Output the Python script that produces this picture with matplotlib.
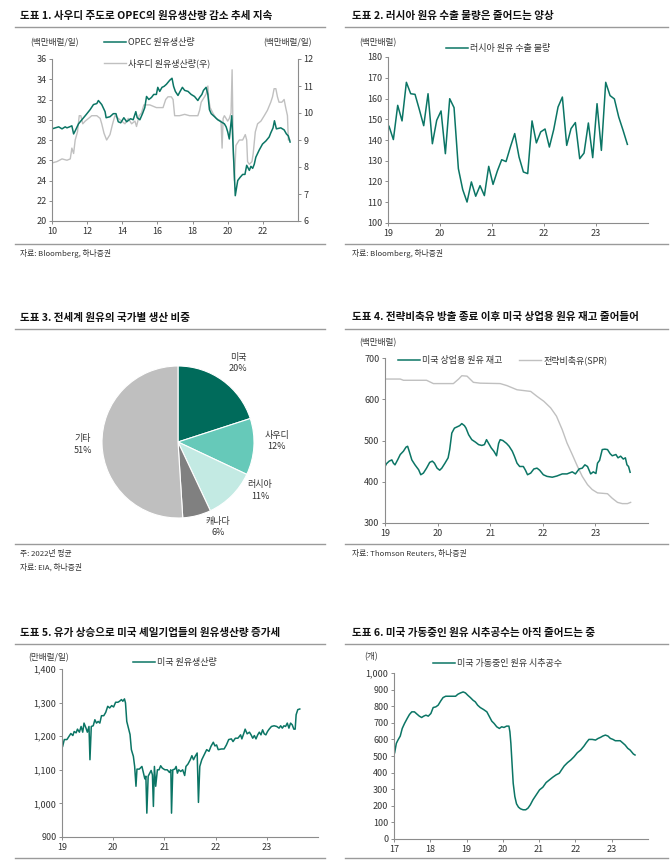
import matplotlib
matplotlib.use("Agg")
import matplotlib.pyplot as plt
from matplotlib.lines import Line2D
from matplotlib.ticker import FuncFormatter
import numpy as np

plt.rcParams['font.family'] = ['Noto Sans CJK KR', 'DejaVu Sans']

# ---- 도표 1: OPEC / 사우디 원유생산량 (year, 백만배럴/일)
opec_year = [2010.00, 2010.19, 2010.38, 2010.57, 2010.75, 2010.85, 2011.00, 2011.13, 2011.23, 2011.32,
             2011.51, 2011.70, 2011.94, 2012.17, 2012.36, 2012.55, 2012.64, 2012.83, 2013.02, 2013.08,
             2013.30, 2013.49, 2013.64, 2013.77, 2013.91, 2014.09, 2014.25, 2014.47, 2014.62, 2014.77,
             2014.85, 2015.00, 2015.15, 2015.28, 2015.38, 2015.51, 2015.66, 2015.79, 2015.94, 2016.02,
             2016.13, 2016.26, 2016.38, 2016.51, 2016.70, 2016.83, 2016.92, 2017.02, 2017.17, 2017.26,
             2017.42, 2017.55, 2017.74, 2017.92, 2018.11, 2018.30, 2018.40, 2018.53, 2018.62, 2018.77,
             2018.87, 2018.96, 2019.06, 2019.25, 2019.43, 2019.62, 2019.81, 2019.91, 2020.00, 2020.09,
             2020.23, 2020.43, 2020.57, 2020.70, 2020.85, 2020.98, 2021.08, 2021.23, 2021.32, 2021.42,
             2021.51, 2021.60, 2021.79, 2021.98, 2022.17, 2022.36, 2022.45, 2022.58, 2022.66, 2022.77,
             2023.02, 2023.21, 2023.34, 2023.45, 2023.55]
opec_prod = [29.1, 29.2, 29.3, 29.1, 29.3, 29.2, 29.3, 29.4, 28.6, 28.9,
             29.6, 30.0, 30.5, 31.0, 31.5, 31.6, 31.9, 31.5, 30.8, 30.2,
             30.3, 30.6, 30.6, 29.8, 29.7, 30.2, 29.8, 30.1, 30.0, 30.8,
             30.2, 30.0, 30.6, 31.2, 32.3, 32.0, 32.2, 32.5, 32.5, 33.2,
             32.8, 33.2, 33.3, 33.5, 33.9, 34.1, 33.3, 32.8, 32.4, 32.7,
             33.2, 32.9, 32.8, 32.5, 32.3, 31.9, 32.2, 32.5, 32.9, 33.2,
             32.5, 31.0, 30.6, 30.3, 30.0, 29.8, 29.6, 29.3, 28.8, 28.1,
             30.4, 22.5, 24.0, 24.3, 24.6, 24.6, 25.5, 25.0, 25.4, 25.2,
             25.6, 26.3, 27.0, 27.6, 27.9, 28.3, 28.7, 29.2, 29.9, 29.1,
             29.2, 29.0, 28.6, 28.4, 27.8]

saudi_year = [2010.00, 2010.28, 2010.57, 2010.85, 2011.04, 2011.13, 2011.23, 2011.32, 2011.45, 2011.55,
              2011.64, 2011.75, 2011.89, 2012.08, 2012.26, 2012.55, 2012.74, 2012.83, 2012.96, 2013.11,
              2013.30, 2013.45, 2013.58, 2013.77, 2013.96, 2014.15, 2014.34, 2014.53, 2014.72, 2014.81,
              2014.96, 2015.09, 2015.23, 2015.57, 2015.94, 2016.32, 2016.47, 2016.60, 2016.79, 2016.89,
              2016.98, 2017.26, 2017.55, 2017.83, 2018.11, 2018.30, 2018.40, 2018.49, 2018.68, 2018.77,
              2018.87, 2018.92, 2019.00, 2019.15, 2019.34, 2019.62, 2019.68, 2019.74, 2019.81, 2020.00,
              2020.09, 2020.19, 2020.25, 2020.32, 2020.38, 2020.47, 2020.66, 2020.85, 2021.00, 2021.08,
              2021.13, 2021.23, 2021.38, 2021.45, 2021.57, 2021.70, 2021.89, 2022.08, 2022.26, 2022.45,
              2022.55, 2022.64, 2022.74, 2022.83, 2022.92, 2023.08, 2023.21, 2023.30, 2023.40, 2023.45,
              2023.53]
saudi_prod = [8.15, 8.2, 8.3, 8.25, 8.3, 8.7, 8.5, 9.0, 9.3, 9.9,
              9.9, 9.6, 9.7, 9.8, 9.9, 9.9, 9.8, 9.6, 9.25, 9.0,
              9.2, 9.6, 9.9, 9.8, 9.7, 9.6, 9.8, 9.6, 9.7, 9.5,
              9.9, 10.0, 10.3, 10.3, 10.2, 10.2, 10.5, 10.6, 10.6, 10.5,
              9.9, 9.9, 9.95, 9.9, 9.9, 9.9, 10.1, 10.4, 10.6, 10.7,
              11.0, 10.5, 10.2, 10.0, 9.8, 9.7, 8.7, 9.8, 9.9, 9.7,
              9.8, 10.0, 11.6, 8.5, 7.5, 8.8, 9.0, 9.0, 9.2, 9.0,
              8.2, 8.1, 8.2, 8.5, 9.3, 9.6, 9.7, 9.9, 10.1, 10.4,
              10.6, 10.9, 10.9, 10.6, 10.4, 10.4, 10.5, 10.2, 9.9, 9.0,
              9.0]

# ---- 도표 2: 러시아 원유 수출 물량 (monthly from Jan 2019, 백만배럴)
russia_exports = [146.6, 140.2, 156.7, 149.2, 167.8, 162.3, 162.0, 154.6, 146.9, 162.3, 138.2, 149.5,
                  154.0, 133.4, 159.9, 155.6, 126.2, 116.1, 110.1, 119.8, 112.9, 118.0, 113.2, 127.3,
                  118.6, 125.1, 130.5, 129.6, 136.6, 143.1, 131.8, 124.6, 123.8, 149.2, 138.6, 143.9,
                  145.3, 136.6, 145.0, 155.9, 160.7, 137.4, 145.5, 148.4, 131.0, 133.7, 148.2, 131.5,
                  157.5, 135.0, 167.8, 161.4, 159.8, 151.1, 144.7, 137.9]

# ---- 도표 3: 국가별 생산 비중 (2022년 평균, %)
pie_names = ['미국', '사우디', '러시아', '캐나다', '기타']
pie_shares = [20, 12, 11, 6, 51]
pie_colors = ['#006B5B', '#66C9B9', '#C3EAE3', '#808080', '#BFBFBF']

# ---- 도표 4: 미국 상업용 원유 재고 / 전략비축유 (백만배럴)
comm_year = [2019.00, 2019.03, 2019.08, 2019.13, 2019.16, 2019.19, 2019.24, 2019.29, 2019.35, 2019.40,
             2019.43, 2019.46, 2019.51, 2019.57, 2019.64, 2019.68, 2019.73, 2019.79, 2019.85, 2019.90,
             2019.94, 2019.99, 2020.04, 2020.08, 2020.14, 2020.20, 2020.23, 2020.27, 2020.32, 2020.37,
             2020.42, 2020.46, 2020.51, 2020.54, 2020.59, 2020.65, 2020.72, 2020.78, 2020.84, 2020.89,
             2020.93, 2020.97, 2021.02, 2021.07, 2021.12, 2021.16, 2021.19, 2021.24, 2021.31, 2021.36,
             2021.42, 2021.46, 2021.51, 2021.56, 2021.63, 2021.67, 2021.71, 2021.77, 2021.83, 2021.89,
             2021.94, 2022.01, 2022.08, 2022.18, 2022.27, 2022.37, 2022.46, 2022.56, 2022.62, 2022.69,
             2022.75, 2022.80, 2022.85, 2022.91, 2022.96, 2023.01, 2023.04, 2023.08, 2023.13, 2023.18,
             2023.23, 2023.28, 2023.32, 2023.39, 2023.43, 2023.48, 2023.53, 2023.57, 2023.60, 2023.63,
             2023.66]
comm_stock = [437, 444, 450, 453, 445, 441, 453, 466, 474, 484,
              486, 474, 453, 441, 429, 417, 421, 433, 447, 450,
              445, 433, 428, 433, 445, 458, 478, 518, 530, 533,
              536, 541, 536, 530, 514, 502, 496, 490, 488, 490,
              502, 493, 482, 474, 463, 493, 502, 500, 493, 486,
              474, 462, 445, 437, 437, 428, 417, 421, 431, 433,
              428, 417, 413, 411, 414, 419, 419, 424, 419, 431,
              433, 441, 437, 419, 424, 420, 445, 452, 478, 479,
              478, 468, 463, 466, 458, 462, 455, 458, 441, 437,
              423]

spr_year = [2019.00, 2019.29, 2019.35, 2019.79, 2019.92, 2020.30, 2020.40, 2020.46, 2020.56, 2020.68,
            2020.81, 2021.19, 2021.32, 2021.51, 2021.77, 2021.89, 2022.02, 2022.15, 2022.26, 2022.37,
            2022.46, 2022.56, 2022.66, 2022.75, 2022.85, 2022.94, 2023.04, 2023.23, 2023.32, 2023.42,
            2023.51, 2023.61, 2023.67]
spr_stock = [649, 649, 646, 646, 638, 638, 649, 657, 656, 641,
             639, 638, 633, 623, 619, 607, 595, 579, 559, 526,
             494, 466, 437, 413, 393, 381, 373, 371, 360, 350,
             347, 347, 350]

# ---- 도표 5: 미국 원유생산량 (만배럴/일)
us_prod_year = [2019.013, 2019.045, 2019.096, 2019.148, 2019.173, 2019.212, 2019.238, 2019.276, 2019.302, 2019.340,
                2019.373, 2019.405, 2019.430, 2019.469, 2019.495, 2019.527, 2019.546, 2019.572, 2019.610, 2019.642,
                2019.674, 2019.706, 2019.739, 2019.771, 2019.816, 2019.854, 2019.893, 2019.931, 2019.970, 2020.008,
                2020.047, 2020.092, 2020.124, 2020.162, 2020.188, 2020.220, 2020.240, 2020.265, 2020.297, 2020.329,
                2020.355, 2020.394, 2020.419, 2020.445, 2020.464, 2020.509, 2020.561, 2020.593, 2020.618, 2020.638,
                2020.657, 2020.683, 2020.715, 2020.741, 2020.766, 2020.785, 2020.805, 2020.830, 2020.863, 2020.895,
                2020.927, 2020.959, 2021.010, 2021.055, 2021.100, 2021.126, 2021.139, 2021.164, 2021.203, 2021.229,
                2021.254, 2021.280, 2021.319, 2021.357, 2021.396, 2021.421, 2021.460, 2021.505, 2021.537, 2021.569,
                2021.601, 2021.640, 2021.665, 2021.691, 2021.730, 2021.762, 2021.794, 2021.826, 2021.871, 2021.910,
                2021.955, 2021.987, 2022.019, 2022.051, 2022.115, 2022.166, 2022.211, 2022.256, 2022.308, 2022.340,
                2022.385, 2022.436, 2022.488, 2022.513, 2022.552, 2022.577, 2022.616, 2022.661, 2022.693, 2022.725,
                2022.757, 2022.789, 2022.822, 2022.854, 2022.886, 2022.918, 2022.950, 2022.982, 2023.014, 2023.046,
                2023.091, 2023.143, 2023.194, 2023.239, 2023.271, 2023.303, 2023.335, 2023.367, 2023.400, 2023.432,
                2023.464, 2023.496, 2023.528, 2023.554, 2023.573, 2023.605, 2023.644]
us_prod = [1170, 1190, 1190, 1202, 1208, 1202, 1214, 1210, 1221, 1212,
           1229, 1212, 1239, 1224, 1212, 1229, 1130, 1229, 1231, 1249,
           1239, 1244, 1239, 1261, 1261, 1271, 1289, 1284, 1291, 1287,
           1301, 1301, 1304, 1309, 1304, 1311, 1299, 1244, 1224, 1205,
           1160, 1140, 1110, 1051, 1102, 1102, 1110, 1090, 1073, 1081,
           971, 1081, 1090, 1098, 1085, 991, 1110, 1051, 1100, 1100,
           1112, 1105, 1100, 1100, 1092, 1100, 971, 1100, 1102, 1110,
           1090, 1100, 1095, 1100, 1083, 1110, 1117, 1130, 1142, 1130,
           1140, 1150, 1003, 1110, 1130, 1140, 1150, 1160, 1155, 1170,
           1182, 1171, 1174, 1160, 1162, 1162, 1174, 1190, 1192, 1184,
           1194, 1194, 1204, 1192, 1209, 1221, 1207, 1212, 1204, 1194,
           1202, 1192, 1204, 1212, 1204, 1219, 1207, 1204, 1214, 1221,
           1229, 1231, 1229, 1224, 1231, 1224, 1231, 1229, 1239, 1224,
           1239, 1234, 1221, 1221, 1264, 1279, 1281]

# ---- 도표 6: 미국 가동중인 원유 시추공수 (개)
rig_year = [2017.018, 2017.064, 2017.109, 2017.172, 2017.227, 2017.290, 2017.363, 2017.426, 2017.490, 2017.563,
            2017.635, 2017.699, 2017.762, 2017.817, 2017.880, 2017.944, 2018.016, 2018.080, 2018.152, 2018.216,
            2018.289, 2018.352, 2018.425, 2018.515, 2018.606, 2018.697, 2018.760, 2018.833, 2018.906, 2018.969,
            2019.033, 2019.105, 2019.178, 2019.241, 2019.305, 2019.377, 2019.468, 2019.559, 2019.632, 2019.695,
            2019.759, 2019.831, 2019.904, 2019.967, 2020.031, 2020.103, 2020.167, 2020.194, 2020.221, 2020.258,
            2020.285, 2020.330, 2020.376, 2020.430, 2020.485, 2020.557, 2020.630, 2020.693, 2020.757, 2020.829,
            2020.920, 2021.011, 2021.102, 2021.192, 2021.283, 2021.374, 2021.465, 2021.555, 2021.628, 2021.691,
            2021.782, 2021.873, 2021.964, 2022.054, 2022.145, 2022.236, 2022.299, 2022.372, 2022.463, 2022.554,
            2022.626, 2022.690, 2022.753, 2022.826, 2022.898, 2022.962, 2023.034, 2023.098, 2023.171, 2023.234,
            2023.298, 2023.370, 2023.443, 2023.506, 2023.597, 2023.642]
rig_count = [520, 576, 596, 620, 666, 696, 726, 750, 766, 766,
             752, 740, 732, 740, 746, 740, 756, 792, 796, 806,
             832, 852, 860, 860, 860, 860, 872, 880, 886, 880,
             866, 852, 836, 826, 806, 792, 780, 766, 736, 710,
             696, 676, 666, 676, 672, 680, 680, 646, 576, 436,
             336, 256, 212, 192, 182, 176, 176, 186, 206, 236,
             266, 296, 312, 340, 356, 372, 386, 396, 420, 440,
             460, 476, 496, 520, 536, 560, 580, 600, 600, 596,
             606, 612, 620, 626, 620, 606, 600, 592, 592, 592,
             580, 566, 546, 536, 512, 506]

TEAL = '#0B7565'
GRAY = '#C0C0C0'
SPINE = '#8C8C8C'
TXT = '#333333'

W, H = 671, 861
fig = plt.figure(figsize=(W / 100, H / 100), dpi=100)


def add_ax(l, t, r, b):
    return fig.add_axes([l / W, 1 - b / H, (r - l) / W, (b - t) / H])


def ftext(x, y, s, **kw):
    kw.setdefault('fontsize', 6.2)
    kw.setdefault('color', TXT)
    kw.setdefault('va', 'center')
    fig.text(x / W, 1 - y / H, s, **kw)


def hline(y, x0, x1, lw=1.0, color='#9A9A9A'):
    fig.add_artist(Line2D([x0 / W, x1 / W], [1 - y / H, 1 - y / H],
                          transform=fig.transFigure, color=color, lw=lw))


def style(ax):
    for s in ['top', 'right']:
        ax.spines[s].set_visible(False)
    for s in ['left', 'bottom']:
        ax.spines[s].set_color(SPINE)
        ax.spines[s].set_linewidth(0.8)
    ax.tick_params(axis='both', direction='out', length=2, width=0.7, color=SPINE,
                   labelsize=6.5, labelcolor=TXT, pad=2)
    ax.patch.set_alpha(0)


def add_legend(ax, handles, labels, x, y, **kw):
    ax.legend(handles, labels, loc='upper left', bbox_to_anchor=(x / W, 1 - y / H),
              bbox_transform=fig.transFigure, frameon=False, fontsize=6.5,
              handlelength=2.4, handletextpad=0.3, borderpad=0, borderaxespad=0,
              labelcolor=TXT, **kw)


comma = FuncFormatter(lambda v, p: f'{int(v):,}')

# titles and frame lines
left_x, right_x = 20, 352
panels = [
    ('도표 1. 사우디 주도로 OPEC의 원유생산량 감소 추세 지속', left_x, 16, 27, 15, 325),
    ('도표 2. 러시아 원유 수출 물량은 줄어드는 양상', right_x, 16, 27, 345, 668),
    ('도표 3. 전세계 원유의 국가별 생산 비중', left_x, 318, 329, 15, 325),
    ('도표 4. 전략비축유 방출 종료 이후 미국 상업용 원유 재고 줄어들어', right_x, 317, 329, 345, 668),
    ('도표 5. 유가 상승으로 미국 셰일기업들의 원유생산량 증가세', left_x, 633, 644, 15, 325),
    ('도표 6. 미국 가동중인 원유 시추공수는 아직 줄어드는 중', right_x, 633, 644, 345, 668),
]
for title, tx, ty, ly, x0, x1 in panels:
    ftext(tx, ty, title, fontsize=7.6, fontweight='bold', color='#111111')
    hline(ly, x0, x1)
for y in [244, 544, 858]:
    hline(y, 15, 325)
    hline(y, 345, 668)

ftext(20, 253, '자료: Bloomberg, 하나증권', fontsize=5.6)
ftext(352, 253, '자료: Bloomberg, 하나증권', fontsize=5.6)
ftext(20, 554, '주: 2022년 평균', fontsize=5.6)
ftext(20, 567, '자료: EIA, 하나증권', fontsize=5.6)
ftext(352, 553, '자료: Thomson Reuters, 하나증권', fontsize=5.6)

# ---- panel 1
ax1 = add_ax(52, 59, 298, 221)
style(ax1)
ax1r = ax1.twinx()
style(ax1r)
ax1r.spines['left'].set_visible(False)
ax1r.spines['bottom'].set_visible(False)
ax1r.spines['right'].set_visible(True)
ax1r.spines['right'].set_color(SPINE)
ax1r.spines['right'].set_linewidth(0.8)
l_sa, = ax1r.plot(saudi_year, saudi_prod, color=GRAY, lw=1.0)
l_op, = ax1.plot(opec_year, opec_prod, color=TEAL, lw=1.1)
ax1.set_zorder(ax1r.get_zorder() + 1)
ax1.set_xlim(2010, 2024)
ax1.set_ylim(20, 36)
ax1.set_yticks(np.arange(20, 37, 2))
ax1.set_xticks([2010, 2012, 2014, 2016, 2018, 2020, 2022])
ax1.set_xticklabels(['10', '12', '14', '16', '18', '20', '22'])
ax1r.set_ylim(6, 12)
ax1r.set_yticks(np.arange(6, 13, 1))
ftext(30, 43, '(백만배럴/일)')
ftext(263, 43, '(백만배럴/일)')
add_legend(ax1, [l_op, l_sa], ['OPEC 원유생산량', '사우디 원유생산량(우)'], 104, 38,
           labelspacing=1.3)

# ---- panel 2
ax2 = add_ax(388, 57, 648, 223)
style(ax2)
months = 2019 + np.arange(len(russia_exports)) / 12 + 0.02
l_ru, = ax2.plot(months, russia_exports, color=TEAL, lw=1.1)
ax2.set_xlim(2019, 2024)
ax2.set_ylim(100, 180)
ax2.set_yticks(np.arange(100, 181, 10))
ax2.set_xticks([2019, 2020, 2021, 2022, 2023])
ax2.set_xticklabels(['19', '20', '21', '22', '23'])
ftext(359, 43, '(백만배럴)')
add_legend(ax2, [l_ru], ['러시아 원유 수출 물량'], 446, 44)

# ---- panel 3 (pie)
R = 76
ax3 = add_ax(178 - 130, 442 - 110, 178 + 130, 442 + 110)
ax3.axis('off')
wedges, texts = ax3.pie(pie_shares, colors=pie_colors, startangle=90, counterclock=False,
                        labels=[f'{n}\n{v}%' for n, v in zip(pie_names, pie_shares)],
                        labeldistance=1.3, radius=1,
                        wedgeprops=dict(edgecolor='white', linewidth=0.8),
                        textprops=dict(fontsize=6.5, color=TXT))
label_pos = [(0.79, 1.04), (1.30, 0.01), (1.08, -0.64), (0.53, -1.12), (-1.25, -0.03)]
for t, pos in zip(texts, label_pos):
    t.set_position(pos)
    t.set_ha('center')
    t.set_va('center')
    t.set_multialignment('center')
    t.set_linespacing(1.35)
ax3.set_aspect('equal')
ax3.set_xlim(-130 / R, 130 / R)
ax3.set_ylim(-110 / R, 110 / R)

# ---- panel 4
ax4 = add_ax(385, 358, 648, 523)
style(ax4)
l_sp, = ax4.plot(spr_year, spr_stock, color=GRAY, lw=1.0)
l_cm, = ax4.plot(comm_year, comm_stock, color=TEAL, lw=1.1)
ax4.set_xlim(2019, 2024)
ax4.set_ylim(300, 700)
ax4.set_yticks(np.arange(300, 701, 100))
ax4.set_xticks([2019, 2020, 2021, 2022, 2023])
ax4.set_xticklabels(['19', '20', '21', '22', '23'])
ftext(359, 343, '(백만배럴)')
add_legend(ax4, [l_cm, l_sp], ['미국 상업용 원유 재고', '전략비축유(SPR)'], 398, 355,
           ncol=2, columnspacing=1.8)

# ---- panel 5
ax5 = add_ax(62, 669, 318, 837)
style(ax5)
l_us, = ax5.plot(us_prod_year, us_prod, color=TEAL, lw=1.1)
ax5.set_xlim(2019, 2024)
ax5.set_ylim(900, 1400)
ax5.set_yticks(np.arange(900, 1401, 100))
ax5.yaxis.set_major_formatter(comma)
ax5.set_xticks([2019, 2020, 2021, 2022, 2023])
ax5.set_xticklabels(['19', '20', '21', '22', '23'])
ftext(28, 658, '(만배럴/일)')
add_legend(ax5, [l_us], ['미국 원유생산량'], 133, 658)

# ---- panel 6
ax6 = add_ax(394, 673, 648, 839)
style(ax6)
l_rig, = ax6.plot(rig_year, rig_count, color=TEAL, lw=1.1)
ax6.set_xlim(2017, 2024)
ax6.set_ylim(0, 1000)
ax6.set_yticks(np.arange(0, 1001, 100))
ax6.yaxis.set_major_formatter(comma)
ax6.set_xticks(np.arange(2017, 2024))
ax6.set_xticklabels(['17', '18', '19', '20', '21', '22', '23'])
ftext(364, 657, '(개)')
add_legend(ax6, [l_rig], ['미국 가동중인 원유 시추공수'], 433, 659)

fig.savefig('out.png', dpi=100)
